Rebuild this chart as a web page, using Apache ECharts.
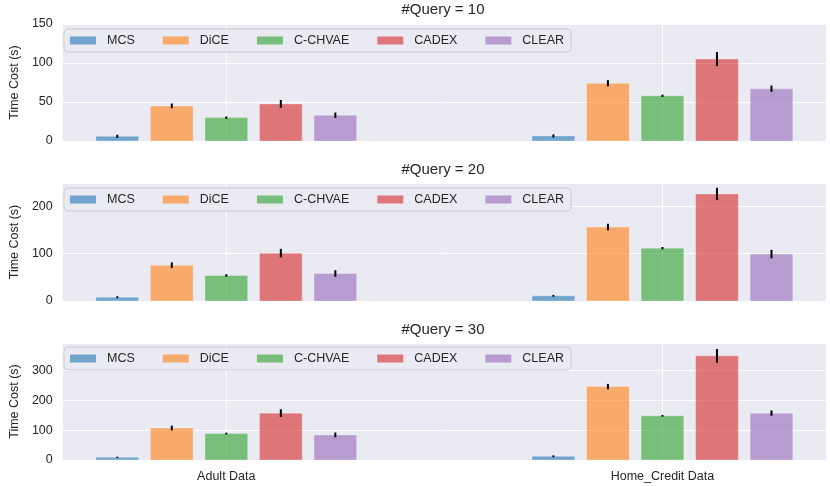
<!DOCTYPE html>
<html>
<head>
<meta charset="utf-8">
<script src="https://cdn.jsdelivr.net/npm/echarts@6/dist/echarts.min.js"></script>
<style>
html,body{margin:0;padding:0;background:#fff;}
#chart{width:830px;height:486px;}
</style>
</head>
<body>
<div id="chart"></div>
<script>
// ---- data ----
const categories = ['Adult Data', 'Home_Credit Data'];
const methods = ['MCS', 'DiCE', 'C-CHVAE', 'CADEX', 'CLEAR'];
const panelTitles = ['#Query = 10', '#Query = 20', '#Query = 30'];
const yTicksMax = [150, 249, 392];
const yTickStep = [50, 100, 100];

const q10Adult = [6, 45, 30, 47.5, 33];
const q10AdultErr = [2, 3, 1.5, 5, 3.5];
const q10Home = [6.5, 74, 58, 105, 67];
const q10HomeErr = [2, 4, 1.5, 9, 4];

const q20Adult = [8, 75.5, 54, 101, 58];
const q20AdultErr = [2, 6, 2.5, 9, 7];
const q20Home = [11, 156, 111.5, 226, 99];
const q20HomeErr = [2, 7, 2.5, 13, 9];

const q30Adult = [9, 107, 88.5, 157, 84];
const q30AdultErr = [2, 8, 3, 13, 8];
const q30Home = [12.5, 246, 148, 349, 157];
const q30HomeErr = [3, 9, 3, 23, 9];

const panels = [
  [q10Adult, q10AdultErr, q10Home, q10HomeErr],
  [q20Adult, q20AdultErr, q20Home, q20HomeErr],
  [q30Adult, q30AdultErr, q30Home, q30HomeErr]
];

// ---- style ----
const colors = ['rgba(31,119,180,0.6)', 'rgba(255,127,14,0.6)', 'rgba(44,160,44,0.6)', 'rgba(214,39,40,0.6)', 'rgba(148,103,189,0.6)'];
const offsets = [-0.25, -0.125, 0, 0.125, 0.25];
const barW = 0.098;
const font = '"Liberation Sans", Arial, sans-serif';
const txt = '#262626';
const gridTops = [24, 183, 343];
const gridH = [117, 118, 117];
const legendTops = [29, 188, 347];
const titleTops = [2, 162, 322];

const grid = [], xAxis = [], yAxis = [], series = [], legend = [], title = [];

panels.forEach((pd, p) => {
  grid.push({left: 60, width: 766, top: gridTops[p], height: gridH[p], backgroundColor: '#eaeaf2', show: true, borderWidth: 0});
  xAxis.push({
    type: 'value', gridIndex: p, min: -0.375, max: 1.375,
    axisLine: {show: false}, axisTick: {show: false}, splitLine: {show: false},
    axisLabel: {
      show: p === 2, customValues: [0, 1], margin: 10,
      formatter: v => categories[Math.round(v)] || '',
      color: txt, fontSize: 12.5, fontFamily: font
    }
  });
  yAxis.push({
    type: 'value', gridIndex: p, min: 0, max: yTicksMax[p], interval: yTickStep[p],
    name: 'Time Cost (s)', nameLocation: 'middle', nameGap: 40,
    nameTextStyle: {color: txt, fontSize: 12.5, fontFamily: font},
    axisLine: {show: false}, axisTick: {show: false},
    axisLabel: {color: txt, fontSize: 12.5, fontFamily: font, margin: 10, showMaxLabel: p === 0},
    splitLine: {lineStyle: {color: '#ffffff', width: 1}}
  });
  title.push({
    text: panelTitles[p], left: 443, top: titleTops[p], textAlign: 'center', padding: 0,
    textStyle: {color: txt, fontSize: 15, fontWeight: 'normal', fontFamily: font}
  });
  legend.push({
    data: methods, left: 64, top: legendTops[p], orient: 'horizontal',
    icon: 'rect', itemWidth: 26, itemHeight: 8, itemGap: 28,
    padding: [5, 7, 5, 6],
    backgroundColor: 'rgba(234,234,242,0.9)', borderColor: '#cdcdd4', borderWidth: 1, borderRadius: 4,
    textStyle: {color: txt, fontSize: 12.5, fontFamily: font, padding: [0, 0, 0, 6]}
  });
  // vertical grid lines at category positions
  series.push({
    type: 'custom', name: 'vgrid' + p, xAxisIndex: p, yAxisIndex: p, z: 1, silent: true,
    data: [[0], [1]], encode: {x: 0},
    renderItem: (params, api) => {
      const cs = params.coordSys;
      const x = api.coord([api.value(0), 0])[0];
      return {type: 'line', shape: {x1: x, y1: cs.y, x2: x, y2: cs.y + cs.height}, style: {stroke: '#ffffff', lineWidth: 1}};
    }
  });
  methods.forEach((m, k) => {
    const data = [[0, pd[0][k], pd[1][k]], [1, pd[2][k], pd[3][k]]];
    series.push({
      type: 'custom', name: m, xAxisIndex: p, yAxisIndex: p, z: 3,
      itemStyle: {color: colors[k]},
      data: data, encode: {x: 0, y: 1},
      renderItem: (params, api) => {
        const x = api.value(0) + offsets[k];
        const v = api.value(1), e = api.value(2);
        const a = api.coord([x - barW / 2, 0]);
        const b = api.coord([x + barW / 2, v]);
        const et = api.coord([x, v + e]);
        const eb = api.coord([x, v - e]);
        return {type: 'group', children: [
          {type: 'rect', shape: {x: a[0], y: b[1], width: b[0] - a[0], height: a[1] - b[1]},
           style: {fill: colors[k], stroke: 'rgba(255,255,255,0.3)', lineWidth: 1}},
          {type: 'line', shape: {x1: et[0], y1: et[1], x2: eb[0], y2: eb[1]},
           style: {stroke: '#000000', lineWidth: 2}}
        ]};
      }
    });
  });
});

const chart = echarts.init(document.getElementById('chart'), null, {renderer: 'canvas'});
chart.setOption({
  backgroundColor: '#ffffff',
  animation: false,
  title, grid, xAxis, yAxis, legend, series
});
</script>
</body>
</html>
